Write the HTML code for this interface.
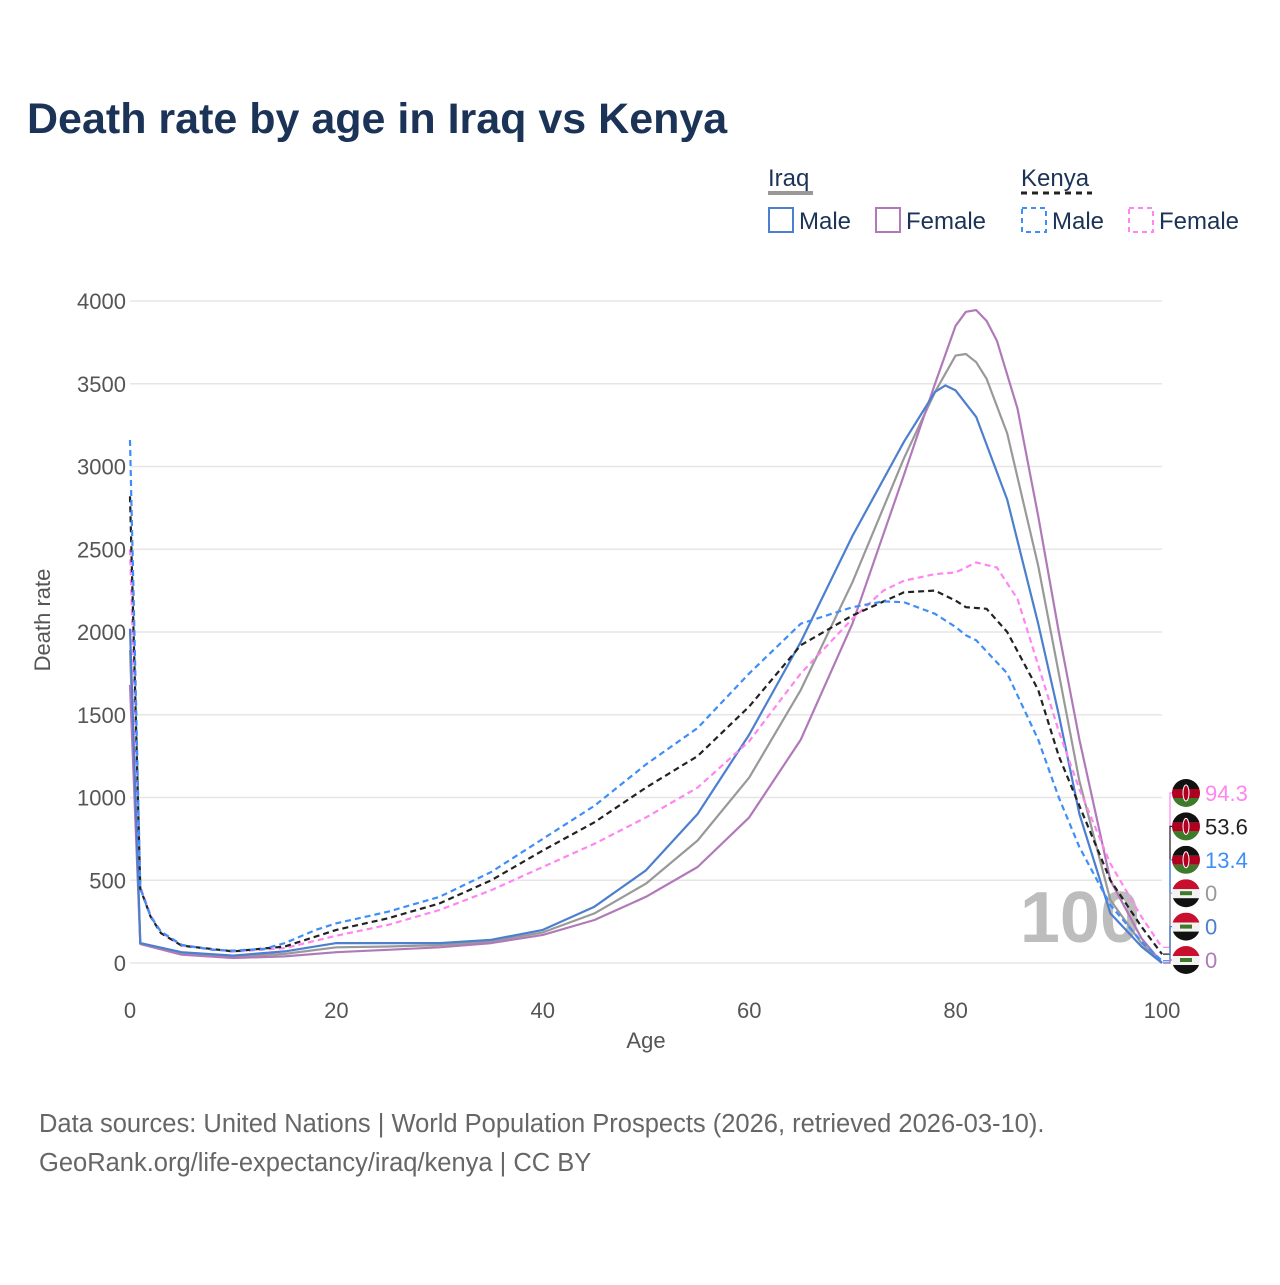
<!DOCTYPE html>
<html><head><meta charset="utf-8">
<style>
body{margin:0;background:#fff;}
svg text{font-family:"Liberation Sans",sans-serif;}
</style></head>
<body>
<svg id="c" width="1280" height="1280" viewBox="0 0 1280 1280" xmlns="http://www.w3.org/2000/svg">
<rect width="1280" height="1280" fill="#fff"/>
<text x="27" y="133" font-size="43" font-weight="bold" fill="#1b3356">Death rate by age in Iraq vs Kenya</text>
<g>
<text x="768" y="186" font-size="24" fill="#1b3356">Iraq</text>
<line x1="768" y1="193" x2="813" y2="193" stroke="#999" stroke-width="4"/>
<text x="1021" y="186" font-size="24" fill="#1b3356">Kenya</text>
<line x1="1021" y1="193" x2="1092" y2="193" stroke="#222" stroke-width="3" stroke-dasharray="6,5"/>
<g><rect x="769" y="208" width="24" height="24" fill="none" stroke="#4d7fcf" stroke-width="2"/><text x="799" y="229" font-size="24" fill="#1b3356">Male</text></g>
<g><rect x="876" y="208" width="24" height="24" fill="none" stroke="#b07ab8" stroke-width="2"/><text x="906" y="229" font-size="24" fill="#1b3356">Female</text></g>
<g><rect x="1022" y="208" width="24" height="24" fill="none" stroke="#3f8ef7" stroke-width="2" stroke-dasharray="5,4"/><text x="1052" y="229" font-size="24" fill="#1b3356">Male</text></g>
<g><rect x="1129" y="208" width="24" height="24" fill="none" stroke="#ff85f0" stroke-width="2" stroke-dasharray="5,4"/><text x="1159" y="229" font-size="24" fill="#1b3356">Female</text></g>
</g>
<g id="grid"></g>
<text x="1140" y="942" font-size="72" font-weight="bold" fill="#bdbdbd" text-anchor="end">100</text>
<g id="lines"></g>
<g id="ends"></g>
<text x="646" y="1048" font-size="22" fill="#555" text-anchor="middle">Age</text>
<text transform="translate(50,620) rotate(-90)" font-size="22" fill="#555" text-anchor="middle">Death rate</text>
<text x="39" y="1132" font-size="25.5" fill="#666">Data sources: United Nations | World Population Prospects (2026, retrieved 2026-03-10).</text>
<text x="39" y="1171" font-size="25.5" fill="#666">GeoRank.org/life-expectancy/iraq/kenya | CC BY</text>
</svg>
<script>
const xTicks=[0,20,40,60,80,100];
const yTicks=[0,500,1000,1500,2000,2500,3000,3500,4000];
const iqMaleAge=[0,1,5,10,15,20,25,30,35,40,45,50,55,60,65,70,75,78,79,80,82,85,88,90,92,95,98,100];
const iqMaleVal=[2020,120,65,45,70,120,120,120,140,200,340,560,900,1380,1940,2580,3150,3450,3490,3460,3300,2800,2050,1500,900,300,100,0];
const iqFemAge=[0,1,5,10,15,20,25,30,35,40,45,50,55,60,65,70,75,78,80,81,82,83,84,86,88,90,92,95,98,100];
const iqFemVal=[1680,115,50,30,40,65,80,95,120,170,260,400,580,880,1350,2050,2950,3500,3850,3935,3945,3880,3760,3350,2700,2000,1350,500,150,0];
const iqAllAge=[0,1,5,10,15,20,25,30,35,40,45,50,55,60,65,70,75,78,80,81,82,83,85,88,90,92,95,98,100];
const iqAllVal=[1890,118,55,38,55,95,100,108,130,185,300,480,740,1120,1650,2300,3050,3450,3670,3680,3630,3530,3200,2400,1750,1100,380,120,0];
const keMaleAge=[0,1,2,3,5,8,10,13,15,18,20,25,30,35,40,45,50,55,60,65,70,73,75,78,80,81,82,85,88,90,92,95,98,100];
const keMaleVal=[3160,450,280,190,110,80,75,85,120,200,240,310,400,550,750,950,1200,1420,1750,2050,2150,2185,2180,2110,2030,1980,1950,1750,1350,1000,700,350,130,13.4];
const keAllAge=[0,1,2,3,5,10,15,20,25,30,35,40,45,50,55,60,65,70,75,78,80,81,83,85,88,90,92,95,98,100];
const keAllVal=[2820,450,280,180,105,70,100,200,270,360,500,680,850,1060,1250,1550,1920,2100,2240,2250,2190,2150,2140,2000,1650,1250,950,500,220,53.6];
const keFemAge=[0,1,2,3,5,10,15,20,25,30,35,40,45,50,55,60,65,70,73,75,78,80,82,84,86,88,90,92,95,98,100];
const keFemVal=[2500,460,290,185,105,68,90,165,230,320,440,580,720,880,1060,1340,1750,2080,2250,2310,2350,2360,2420,2390,2200,1800,1400,1050,600,280,94.3];
const endLabels=["94.3","53.6","13.4","0","0","0"];

const NS="http://www.w3.org/2000/svg";
const X=a=>130+a*10.32;
const Y=v=>963-v*0.1655;
function mk(t,at,p){const e=document.createElementNS(NS,t);for(const k in at)e.setAttribute(k,at[k]);p.appendChild(e);return e;}
const grid=document.getElementById('grid');
yTicks.forEach(v=>{
  const l=mk('line',{x1:130,x2:1162,y1:Y(v),y2:Y(v),stroke:'#e6e6e6','stroke-width':1.5},grid);
  
  
  const t=mk('text',{x:126,y:Y(v)+8,'font-size':22,fill:'#555','text-anchor':'end'},grid);
  t.textContent=v;
  
  
});
xTicks.forEach(a=>{
  const t=mk('text',{x:X(a),y:1018,'font-size':22,fill:'#555','text-anchor':'middle'},grid);
  t.textContent=a;
  
  
});
const lines=document.getElementById('lines');
const series=[
 [iqAllAge,iqAllVal,'#999',null,'line-iraq-total'],
 [iqFemAge,iqFemVal,'#b07ab8',null,'line-iraq-female'],
 [iqMaleAge,iqMaleVal,'#4d7fcf',null,'line-iraq-male'],
 [keFemAge,keFemVal,'#ff85f0','6,4','line-kenya-female'],
 [keAllAge,keAllVal,'#222','6,4','line-kenya-total'],
 [keMaleAge,keMaleVal,'#3f8ef7','6,4','line-kenya-male']];
series.forEach(s=>{
  const d=s[0].map((a,i)=>(i?'L':'M')+X(a).toFixed(1)+','+Y(s[1][i]).toFixed(1)).join('');
  const at={d:d,fill:'none',stroke:s[2],'stroke-width':2.2,'stroke-linejoin':'round'};
  if(s[3])at['stroke-dasharray']=s[3];
  const p=mk('path',at,lines);
  
  
});
const ends=document.getElementById('ends');
const endCols=['#ff85f0','#222','#3f8ef7','#999','#4d7fcf','#b07ab8'];
const endVals=[94.3,53.6,13.4,0,0,0];
endLabels.forEach((lab,i)=>{
  const cy=793+i*33.4;
  const g=mk('g',{},ends);
  
  
  mk('polyline',{points:`1163,${Y(endVals[i])} 1170,${Y(endVals[i])} 1170,${cy} 1174,${cy}`,fill:'none',stroke:endCols[i],'stroke-width':1.2},g);
  const kenya=i<3;
  const cpth=mk('clipPath',{id:'cl'+i},g);
  mk('circle',{cx:1186,cy:cy,r:14},cpth);
  const f=mk('g',{'clip-path':`url(#cl${i})`},g);
  const c1=kenya?'#111':'#c8102e',c2=kenya?'#b00020':'#f2f2f2',c3=kenya?'#3d7a2a':'#111';
  mk('rect',{x:1172,y:cy-14,width:28,height:10,fill:c1},f);
  mk('rect',{x:1172,y:cy-4,width:28,height:9,fill:c2},f);
  mk('rect',{x:1172,y:cy+5,width:28,height:10,fill:c3},f);
  if(kenya){mk('ellipse',{cx:1186,cy:cy,rx:3,ry:8,fill:'#b00020',stroke:'#fff','stroke-width':1},f);}
  else{mk('rect',{x:1180,y:cy-2,width:12,height:4,fill:'#3d7a2a'},f);}
  const t=mk('text',{x:1205,y:cy+8,'font-size':22,fill:endCols[i]},g);
  t.textContent=lab;
});
</script>
</body></html>
